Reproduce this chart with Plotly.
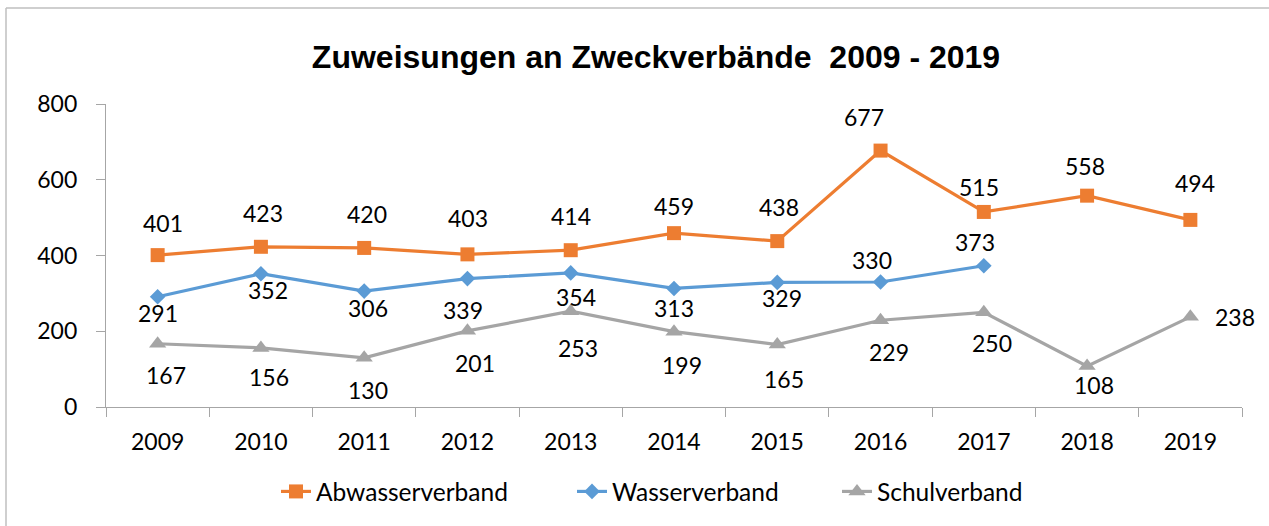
import plotly.graph_objects as go

years = ["2009", "2010", "2011", "2012", "2013", "2014", "2015", "2016", "2017", "2018", "2019"]
abwasser = [401, 423, 420, 403, 414, 459, 438, 677, 515, 558, 494]
wasser = [291, 352, 306, 339, 354, 313, 329, 330, 373, None, None]
schul = [167, 156, 130, 201, 253, 199, 165, 229, 250, 108, 238]

names = ["Abwasserverband", "Wasserverband", "Schulverband"]
colors = ["#ED7D31", "#5B9BD5", "#A5A5A5"]
symbols = ["square", "diamond", "triangle-up"]
msizes = [14, 12, 15]
legends = ["legend", "legend2", "legend3"]
legend_left_px = [276, 572, 837]

# label offsets (pixels) relative to markers
abw_off = [(5, 32), (2, 34), (3, 34), (1, 36), (0, 34), (0, 27), (2, 34), (-17, 34), (-5, 25), (-2, 30), (5, 37)]
was_off = [(0, -16), (7, -16), (4, -17), (-4, -31), (5, -24), (0, -20), (5, -16), (-9, 22), (-9, 24), None, None]
sch_off = [(8, -31), (8, -29), (4, -32), (8, -32), (7, -37), (8, -33), (7, -34), (8, -32), (8, -31), (7, -19), (45, 0)]

FONT = "Lato"
AX = "#A6A6A6"

fig = go.Figure()
for name, vals, col, sym, ms, lg in zip(names, [abwasser, wasser, schul], colors, symbols, msizes, legends):
    fig.add_trace(go.Scatter(
        x=years, y=vals, name=name, mode="lines+markers",
        line=dict(color=col, width=3.2),
        marker=dict(symbol=sym, size=ms, color=col),
        connectgaps=False, legend=lg,
    ))

annotations = []
for vals, offs in zip([abwasser, wasser, schul], [abw_off, was_off, sch_off]):
    for i, (v, o) in enumerate(zip(vals, offs)):
        if v is None:
            continue
        annotations.append(dict(
            x=i, y=v, xref="x", yref="y", text=str(v), showarrow=False,
            xshift=o[0], yshift=o[1], font=dict(family=FONT, size=23, color="#000000"),
        ))

L, R, T, B = 106, 27, 104, 119
W, H = 1269, 526
pw, ph = W - L - R, H - T - B

def px_x(p):
    return (p - L) / pw

def px_y(p):
    return (H - B - p) / ph

shapes = [
    dict(type="line", xref="paper", yref="paper", x0=px_x(6), x1=px_x(6), y0=px_y(530), y1=px_y(8),
         line=dict(color="#BFBFBF", width=1.5)),
    dict(type="line", xref="paper", yref="paper", x0=px_x(6), x1=px_x(1275), y0=px_y(8), y1=px_y(8),
         line=dict(color="#BFBFBF", width=1.5)),
]

legend_style = dict(orientation="h", xanchor="left", y=px_y(469), yanchor="top",
                    font=dict(family=FONT, size=24.5, color="#000000"), bgcolor="rgba(0,0,0,0)")

fig.update_layout(
    width=W, height=H,
    margin=dict(l=L, r=R, t=T, b=B, autoexpand=False),
    paper_bgcolor="white", plot_bgcolor="white",
    title=dict(text="<b>Zuweisungen an Zweckverbände  2009 - 2019</b>",
               font=dict(family="Liberation Sans", size=32, color="#000000"),
               x=656 / W, xref="container", xanchor="center",
               y=1 - 57 / H, yref="container", yanchor="middle"),
    font=dict(family=FONT, size=23, color="#000000"),
    showlegend=True,
    legend=dict(x=px_x(legend_left_px[0]), **legend_style),
    legend2=dict(x=px_x(legend_left_px[1]), **legend_style),
    legend3=dict(x=px_x(legend_left_px[2]), **legend_style),
    xaxis=dict(type="category", categoryorder="array", categoryarray=years, range=[-0.5, 10.5],
               showline=True, linecolor=AX, linewidth=1.3, ticks="outside", ticklen=9,
               tickcolor=AX, tickwidth=1.3, tickson="boundaries", showgrid=False, zeroline=False,
               tickfont=dict(family=FONT, size=23, color="#000000"), ticklabelstandoff=14),
    yaxis=dict(range=[0, 800], dtick=200, tick0=0, showline=True, linecolor=AX, linewidth=1.3,
               ticks="outside", ticklen=9, tickcolor=AX, tickwidth=1.3, showgrid=False, zeroline=False,
               tickfont=dict(family=FONT, size=23, color="#000000"), ticklabelstandoff=14),
    xaxis2=dict(type="category", categoryorder="array", categoryarray=years, range=[-0.5, 10.5],
                overlaying="x", anchor="y", side="bottom", showline=False, ticks="inside", ticklen=9,
                tickcolor=AX, tickwidth=1.3, tickson="boundaries", showgrid=False, zeroline=False,
                showticklabels=False),
    yaxis2=dict(range=[0, 800], dtick=200, tick0=0, overlaying="y", anchor="x", side="left",
                showline=False, ticks="inside", ticklen=9, tickcolor=AX, tickwidth=1.3,
                showgrid=False, zeroline=False, showticklabels=False),
    annotations=annotations,
    shapes=shapes,
)

fig.write_html("out.html", config={"displayModeBar": False},
               post_script="document.body.style.margin='0';")
